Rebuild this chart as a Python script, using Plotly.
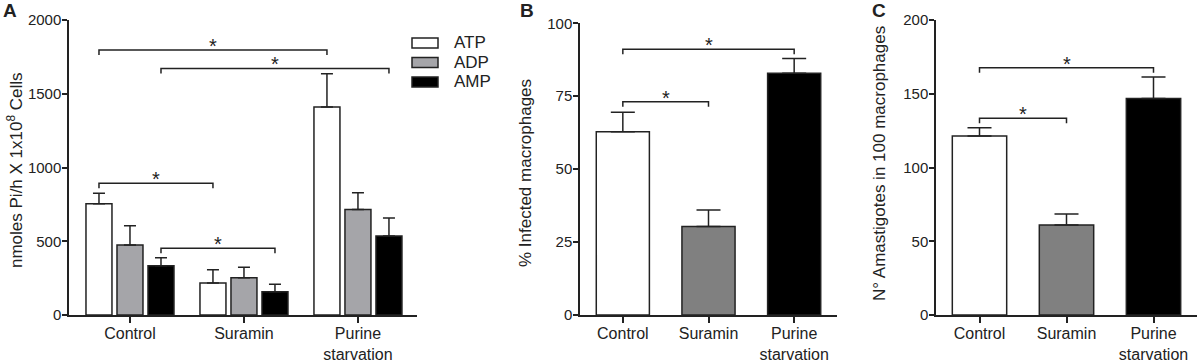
import plotly.graph_objects as go

W, H = 1199, 362

# ---------------- data ----------------
groups_a = ["Control", "Suramin", "Purine<br>starvation"]
series_a = ["ATP", "ADP", "AMP"]
atp_mean = [755, 217, 1410]
atp_top = [825, 307, 1636]
adp_mean = [475, 253, 716]
adp_top = [605, 323, 829]
amp_mean = [334, 158, 535]
amp_top = [388, 208, 657]

groups_b = ["Control", "Suramin", "Purine<br>starvation"]
infected_mean = [62.8, 30.3, 82.9]
infected_top = [69.5, 36.0, 87.9]

groups_c = ["Control", "Suramin", "Purine<br>starvation"]
amast_mean = [121.4, 61.0, 146.7]
amast_top = [127.0, 68.5, 161.4]

# significance brackets: (group_from, series_from, group_to, series_to, height)
brackets_a = [(0, 0, 2, 0, 1797), (0, 2, 2, 2, 1672), (0, 0, 1, 0, 893), (0, 2, 1, 2, 452)]
brackets_b = [(0, 2, 91.1), (0, 1, 73.1)]
brackets_c = [(0, 2, 167.7), (0, 1, 133.4)]

FONT = "Liberation Sans, Arial, sans-serif"
INK = "#222222"
colors_a = ["#ffffff", "#a5a5a9", "#000000"]
colors_bc = ["#ffffff", "#808080", "#000000"]
STAR_SIZE = 20
STAR_SHIFT = 4


def fx(px):
    return px / W


def fy(py):
    return 1 - py / H


fig = go.Figure()

# ---------------- panel A ----------------
offsets = [-0.272, 0.0, 0.272]
bw = 0.228
means_a = [atp_mean, adp_mean, amp_mean]
tops_a = [atp_top, adp_top, amp_top]
for s, name in enumerate(series_a):
    fig.add_trace(go.Bar(
        x=[g + offsets[s] for g in range(3)], y=means_a[s], name=name,
        width=bw, marker=dict(color=colors_a[s], line=dict(color=INK, width=1.5)),
        error_y=dict(type="data", symmetric=False,
                     array=[t - m for t, m in zip(tops_a[s], means_a[s])],
                     arrayminus=[0, 0, 0], color=INK, thickness=1.5, width=6),
        xaxis="x", yaxis="y", showlegend=False))

leg_a = 5 * 2000 / 295
for g1, s1, g2, s2, h in brackets_a:
    x1, x2 = g1 + offsets[s1], g2 + offsets[s2]
    fig.add_trace(go.Scatter(x=[x1, x1, x2, x2], y=[h - leg_a, h, h, h - leg_a],
                             mode="lines", line=dict(color=INK, width=1.5),
                             xaxis="x", yaxis="y", showlegend=False, hoverinfo="skip"))
    fig.add_annotation(x=(x1 + x2) / 2, y=h, xref="x", yref="y", text="*",
                       showarrow=False, yanchor="middle", yshift=STAR_SHIFT,
                       font=dict(family=FONT, size=STAR_SIZE, color=INK))

# ---------------- panel B ----------------
fig.add_trace(go.Bar(
    x=list(range(3)), y=infected_mean, width=0.62,
    marker=dict(color=colors_bc, line=dict(color=INK, width=1.5)),
    error_y=dict(type="data", symmetric=False,
                 array=[t - m for t, m in zip(infected_top, infected_mean)],
                 arrayminus=[0, 0, 0], color=INK, thickness=1.5, width=12),
    xaxis="x2", yaxis="y2", showlegend=False))
leg_b = 5 * 100 / 291.7
for g1, g2, h in brackets_b:
    fig.add_trace(go.Scatter(x=[g1, g1, g2, g2], y=[h - leg_b, h, h, h - leg_b],
                             mode="lines", line=dict(color=INK, width=1.5),
                             xaxis="x2", yaxis="y2", showlegend=False, hoverinfo="skip"))
    fig.add_annotation(x=(g1 + g2) / 2, y=h, xref="x2", yref="y2", text="*",
                       showarrow=False, yanchor="middle", yshift=STAR_SHIFT,
                       font=dict(family=FONT, size=STAR_SIZE, color=INK))

# ---------------- panel C ----------------
fig.add_trace(go.Bar(
    x=list(range(3)), y=amast_mean, width=0.625,
    marker=dict(color=colors_bc, line=dict(color=INK, width=1.5)),
    error_y=dict(type="data", symmetric=False,
                 array=[t - m for t, m in zip(amast_top, amast_mean)],
                 arrayminus=[0, 0, 0], color=INK, thickness=1.5, width=12),
    xaxis="x3", yaxis="y3", showlegend=False))
leg_c = 5 * 200 / 295
for g1, g2, h in brackets_c:
    fig.add_trace(go.Scatter(x=[g1, g1, g2, g2], y=[h - leg_c, h, h, h - leg_c],
                             mode="lines", line=dict(color=INK, width=1.5),
                             xaxis="x3", yaxis="y3", showlegend=False, hoverinfo="skip"))
    fig.add_annotation(x=(g1 + g2) / 2, y=h, xref="x3", yref="y3", text="*",
                       showarrow=False, yanchor="middle", yshift=STAR_SHIFT,
                       font=dict(family=FONT, size=STAR_SIZE, color=INK))

# ---------------- axes ----------------
ax_common = dict(showline=True, linecolor=INK, linewidth=1.5, ticks="outside",
                 ticklen=6, tickwidth=1.5, tickcolor=INK, showgrid=False, zeroline=False,
                 automargin=False, ticklabelstandoff=-3,
                 tickfont=dict(family=FONT, size=16, color=INK), fixedrange=True)
ay_common = dict(showline=True, linecolor=INK, linewidth=1.5, ticks="outside",
                 ticklen=5, tickwidth=1.5, tickcolor=INK, showgrid=False, zeroline=False,
                 automargin=False, ticklabelstandoff=-2,
                 tickfont=dict(family=FONT, size=15, color=INK), fixedrange=True)

fig.update_layout(
    xaxis=dict(ax_common, domain=[fx(69), fx(417)], range=[-0.535, 2.518],
               tickmode="array", tickvals=[0, 1, 2], ticktext=groups_a, anchor="y"),
    yaxis=dict(ay_common, domain=[fy(315), fy(20)], range=[0, 2000],
               tickvals=[0, 500, 1000, 1500, 2000], anchor="x"),
    xaxis2=dict(ax_common, domain=[fx(580), fx(837)], range=[-0.5, 2.5],
                tickmode="array", tickvals=[0, 1, 2], ticktext=groups_b, anchor="y2"),
    yaxis2=dict(ay_common, domain=[fy(315), fy(23.3)], range=[0, 100],
                tickvals=[0, 25, 50, 75, 100], anchor="x2"),
    xaxis3=dict(ax_common, domain=[fx(936), fx(1197)], range=[-0.5, 2.5],
                tickmode="array", tickvals=[0, 1, 2], ticktext=groups_c, anchor="y3"),
    yaxis3=dict(ay_common, domain=[fy(315), fy(20)], range=[0, 200],
                tickvals=[0, 50, 100, 150, 200], anchor="x3"),
    barmode="overlay",
    width=W, height=H,
    margin=dict(l=0, r=0, t=0, b=0, pad=0, autoexpand=False),
    paper_bgcolor="white", plot_bgcolor="white",
    font=dict(family=FONT, color=INK),
)

# axis titles
titles = [
    ("nmoles Pi/h X 1x10<sup>8</sup> Cells", 15, 170),
    ("% Infected macrophages", 525, 173),
    ("N° Amastigotes in 100 macrophages", 880, 164),
]
for text, px, py in titles:
    fig.add_annotation(x=fx(px), y=fy(py), xref="paper", yref="paper", text=text,
                       textangle=-90, showarrow=False, xanchor="center", yanchor="middle",
                       font=dict(family=FONT, size=17, color=INK))

# panel letters
for letter, px in [("A", 10), ("B", 527), ("C", 879)]:
    fig.add_annotation(x=fx(px), y=fy(10), xref="paper", yref="paper", text=f"<b>{letter}</b>",
                       showarrow=False, xanchor="center", yanchor="middle",
                       font=dict(family=FONT, size=19, color=INK))

# legend for panel A (manual)
for i, name in enumerate(series_a):
    cy = 43 + i * 19.5
    fig.add_shape(type="rect", xref="paper", yref="paper",
                  x0=fx(412), x1=fx(438), y0=fy(cy + 5), y1=fy(cy - 5),
                  fillcolor=colors_a[i], line=dict(color=INK, width=1.5))
    fig.add_annotation(x=fx(452), y=fy(cy), xref="paper", yref="paper", text=name,
                       showarrow=False, xanchor="left", yanchor="middle",
                       font=dict(family=FONT, size=17, color=INK))

fig.write_html("out.html", config={"displayModeBar": False},
               post_script="document.body.style.margin='0';")
